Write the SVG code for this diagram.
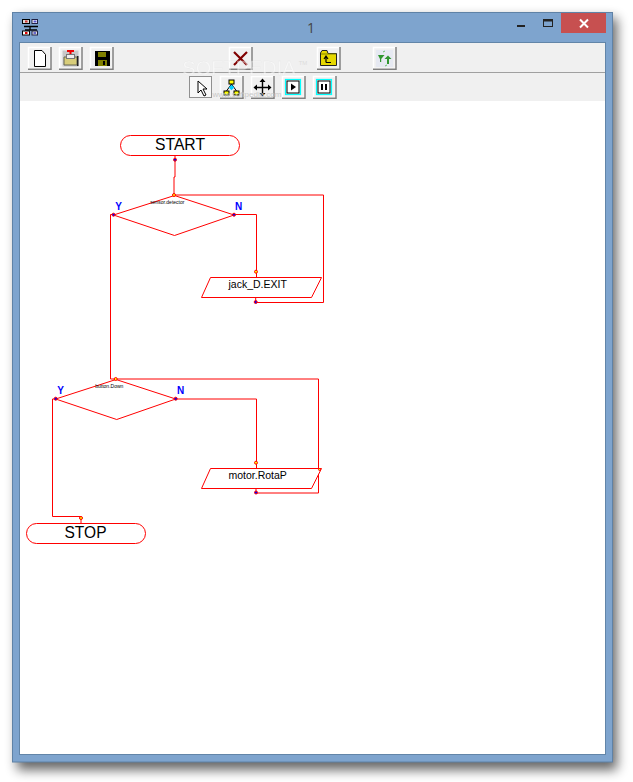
<svg xmlns="http://www.w3.org/2000/svg" width="633" height="782" viewBox="0 0 633 782">
<style>
.n{fill:#fff;stroke:#f00;stroke-width:1}
.c{fill:none;stroke:#f00;stroke-width:1}
.t{font-family:"Liberation Sans",Arial,sans-serif;fill:#000;text-anchor:middle}
.yn{font-family:"Liberation Sans",Arial,sans-serif;font-weight:bold;font-size:10px;fill:#00f;text-anchor:middle}
.tiny{font-family:"Liberation Sans",Arial,sans-serif;font-size:5px;fill:#000;text-anchor:middle}
.in{fill:#ff0;stroke:#f00;stroke-width:1}
.out{fill:#00f;stroke:#f00;stroke-width:1}
.btn{fill:#f0f0f0;stroke:#fff;stroke-width:1.500}
.bs{fill:none;stroke:#808080;stroke-width:1.500}
</style>
<defs>
<filter id="sh" x="-10%" y="-10%" width="120%" height="120%"><feGaussianBlur stdDeviation="6"/></filter>
<g id="b"><rect class="btn" x="0.500" y="0.500" width="22" height="21"/><path class="bs" d="M23 0V22.300H0"/></g>
</defs>
<rect width="633" height="782" fill="#fff"/>
<rect x="17" y="18" width="600" height="752" fill="#000" opacity="0.6" filter="url(#sh)"/>
<g id="window">
<rect x="12.500" y="12.500" width="600" height="749.500" fill="#7ea4ce" stroke="#5f82a6"/>
<rect x="19.500" y="42.500" width="586" height="712" fill="#fff" stroke="#6285a8"/>
<rect x="20" y="43" width="585" height="29" fill="#f0f0f0"/>
<rect x="20" y="72" width="585" height="1" fill="#a0a0a0"/>
<rect x="20" y="73" width="585" height="28" fill="#f0f0f0"/>
<rect x="561" y="13" width="45" height="20" fill="#c75050"/>
<path d="M580 19.500L588 27.500M588 19.500L580 27.500" stroke="#fff" stroke-width="2" fill="none"/>
<rect x="517" y="25" width="8" height="2" fill="#222"/>
<rect x="543.500" y="19.500" width="9" height="7" fill="none" stroke="#222" stroke-width="1"/>
<rect x="543.500" y="19.500" width="9" height="2" fill="#222"/>
<text x="311" y="33" font-family="'Open Sans','Liberation Sans',sans-serif" font-size="14" fill="#444" text-anchor="middle">1</text>
<g id="app-icon">
<path d="M25 30H37M30 26V30M24 26.500H38" stroke="#000" stroke-width="1.300" fill="none"/>
<rect x="22.500" y="19.500" width="7" height="4" fill="#ddd" stroke="#000"/><rect x="25" y="20.500" width="2.500" height="2" fill="#d03030"/>
<rect x="32" y="19.500" width="5.500" height="4" fill="#fff" stroke="#224"/><rect x="33.500" y="20.500" width="3" height="2" fill="#55c"/>
<rect x="22.500" y="31" width="7" height="4" fill="#fff" stroke="#000"/><rect x="25" y="32" width="2.500" height="2" fill="#d00"/>
<rect x="32" y="31" width="5.500" height="4" fill="#ddd" stroke="#224"/><rect x="33.500" y="32" width="2.500" height="2" fill="#66c"/>
</g>
</g>
<g id="toolbar">
<g transform="translate(28,47)"><use href="#b"/><path d="M6.500 3.500H14L17.500 7.500V19.500H6.500Z" fill="#fff" stroke="#000"/></g>
<g transform="translate(59,47)"><use href="#b"/><rect x="3.500" y="3.500" width="16" height="16" fill="#c8c8c8"/><path d="M5 10H18V18H5Z" fill="#d8cd7a" stroke="#665"/><rect x="8" y="3" width="7" height="2" fill="#e00"/><rect x="10.500" y="5" width="2" height="2" fill="#e00"/><rect x="7.500" y="7.500" width="8" height="4" fill="#eee" stroke="#777"/><rect x="18" y="9" width="1.500" height="10" fill="#222"/></g>
<g transform="translate(90,47)"><use href="#b"/><rect x="5" y="4" width="15" height="15" fill="#000"/><rect x="8" y="5" width="8" height="5" fill="#808000"/><rect x="8" y="13" width="9" height="6" fill="#808000"/><rect x="13" y="14" width="2" height="4" fill="#000"/></g>
<g transform="translate(229,47)"><use href="#b"/><path d="M5 5L18 18M18 5L5 18" stroke="#800000" stroke-width="2.200" fill="none"/></g>
<g transform="translate(317,47)"><use href="#b"/><path d="M3.500 8V18.500H19.500V6.500H11L10 3.500H5L3.500 6Z" fill="#e6d800" stroke="#222"/><path d="M4 7H19" stroke="#808000"/><path d="M9 15.500H14M9 15.500V10M7 12L9 9L11 12" stroke="#000" stroke-width="1.200" fill="none"/></g>
<g transform="translate(373,47)"><use href="#b"/><rect x="3" y="3" width="17" height="17" fill="#e6e9f2"/><path d="M5 8H11.500L8.200 12V15H7V12ZM11.500 12L15 8.500L18.500 12H16V17H14V12Z" fill="#2f962f"/><path d="M10 5L12 4M14 18L12 19" stroke="#6cbf6c" fill="none"/></g>
<g transform="translate(189,76)"><rect x="0.500" y="0.500" width="22" height="21" fill="#f8f8f8" stroke="#909090"/><path d="M9 5V17L12 14L15 20L17 19L14 13H18Z" fill="#fff" stroke="#000"/></g>
<g transform="translate(220,76)"><use href="#b"/><rect x="9" y="4" width="5" height="4" fill="#ff0" stroke="#000"/><rect x="4" y="15" width="5" height="4" fill="#ff0" stroke="#000"/><rect x="14" y="15" width="5" height="4" fill="#ff0" stroke="#000"/><path d="M11.500 8L6.500 15M11.500 8L16.500 15" stroke="#000" fill="none"/><rect x="9.500" y="9.500" width="4" height="4" fill="#0cf" transform="rotate(45 11.500 11.500)"/></g>
<g transform="translate(251,76)"><use href="#b"/><path d="M11.500 4V19M4 11.500H19" stroke="#000" stroke-width="1.400" fill="none"/><path d="M11.500 2.500L8.500 6H14.500ZM11.500 20.500L8.500 17H14.500ZM2.500 11.500L6 8.500V14.500ZM20.500 11.500L17 8.500V14.500Z" fill="#000"/></g>
<g transform="translate(282,76)"><use href="#b"/><rect x="3.500" y="3.500" width="15" height="15" fill="#f0f0f0" stroke="#0ff" stroke-width="1.200"/><rect x="5" y="5" width="12" height="12" fill="#fff" stroke="#000"/><path d="M9 7.500L14 11L9 14.500Z" fill="#000"/></g>
<g transform="translate(313,76)"><use href="#b"/><rect x="3.500" y="3.500" width="15" height="15" fill="#f0f0f0" stroke="#0ff" stroke-width="1.200"/><rect x="5" y="5" width="12" height="12" fill="#fff" stroke="#000"/><rect x="8" y="8" width="2" height="6" fill="#000"/><rect x="12" y="8" width="2" height="6" fill="#000"/></g>
<text x="239" y="75" font-family="'Liberation Sans',sans-serif" font-size="20" fill="#fff" opacity="0.500" stroke="#ddd" stroke-width="0.300" text-anchor="middle">SOFTPEDIA</text>
<text x="303" y="65" font-family="'Liberation Sans',sans-serif" font-size="6" fill="#ddd" text-anchor="middle">TM</text>
<text x="247" y="97" font-family="'Liberation Sans',sans-serif" font-size="8" fill="#c8c8c8" text-anchor="middle">www.softpedia.com</text>
</g>
<g id="connectors">
<path class="c" d="M175 155V177H174V195"/>
<path class="c" d="M174 195H323.500V302.500H255.700V297"/>
<path class="c" d="M234 214.500H256.500V277"/>
<path class="c" d="M113 214.500H110.500V379H115.700"/>
<path class="c" d="M115.700 379H318.500V493H256V488"/>
<path class="c" d="M175.700 399H256.500V468"/>
<path class="c" d="M55.700 399H52.500V516.500H81V523"/>
</g>
<g id="start"><rect class="n" x="120.500" y="135.500" width="119" height="20" rx="10"/><text class="t" x="180" y="150" font-size="16.500" textLength="50" lengthAdjust="spacingAndGlyphs">START</text></g>
<g id="decision-sensor"><path class="n" d="M174.500 195.500L234 215L174.500 235.500L113.500 215Z"/><text class="tiny" x="167.300" y="204">sensor.detector</text><text class="yn" x="118.500" y="210">Y</text><text class="yn" x="238.500" y="210">N</text></g>
<g id="jack"><path class="n" d="M210.500 277.500H321.500L311.500 297.500H201.500Z"/><text class="t" x="257.700" y="288" font-size="10.500">jack_D.EXIT</text></g>
<g id="decision-button"><path class="n" d="M116 379.500L175.700 399L116.700 419.500L55.700 399Z"/><text class="tiny" x="109.300" y="388">button.Down</text><text class="yn" x="60.500" y="394">Y</text><text class="yn" x="180.700" y="394">N</text></g>
<g id="motor"><path class="n" d="M210.500 468.500H321.500L311.500 488.500H201.500Z"/><text class="t" x="257.700" y="479" font-size="10.500">motor.RotaP</text></g>
<g id="stop"><rect class="n" x="26.500" y="523.500" width="119" height="20" rx="10"/><text class="t" x="85.500" y="538" font-size="16.500" textLength="42" lengthAdjust="spacingAndGlyphs">STOP</text></g>
<g id="ports">
<circle class="out" cx="175" cy="159.700" r="1.500"/><circle class="in" cx="174" cy="195" r="1.500"/>
<circle class="out" cx="113.500" cy="214.700" r="1.500"/><circle class="out" cx="234" cy="214.700" r="1.500"/>
<circle class="in" cx="256" cy="271.700" r="1.500"/><circle class="out" cx="255.700" cy="302" r="1.500"/>
<circle class="in" cx="115.700" cy="379" r="1.500"/><circle class="out" cx="55.700" cy="398.700" r="1.500"/>
<circle class="out" cx="175.700" cy="398.700" r="1.500"/><circle class="in" cx="256" cy="462.700" r="1.500"/>
<circle class="out" cx="256" cy="492.500" r="1.500"/><circle class="in" cx="81" cy="518" r="1.500"/>
<circle class="in" cx="319.500" cy="469.500" r="1"/>
</g>
</svg>
